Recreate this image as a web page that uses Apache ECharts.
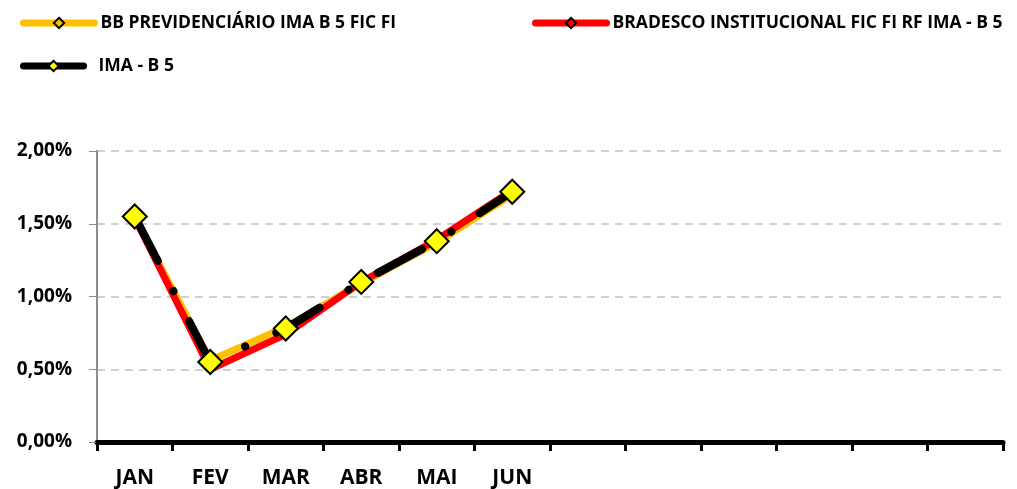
<!DOCTYPE html>
<html><head><meta charset="utf-8">
<script src="https://cdn.jsdelivr.net/npm/echarts@6/dist/echarts.min.js"></script>
<style>html,body{margin:0;padding:0;background:#fff}#c{width:1017px;height:489px}</style>
</head><body><div id="c"></div>
<script>
var categories = ['JAN','FEV','MAR','ABR','MAI','JUN','JUL','AGO','SET','OUT','NOV','DEZ'];
var shownLabels = ['JAN','FEV','MAR','ABR','MAI','JUN','','','','','',''];
var bbValues = [1.54, 0.56, 0.79, 1.09, 1.37, 1.70];
var bradescoValues = [1.54, 0.50, 0.74, 1.10, 1.39, 1.73];
var imaValues = [1.55, 0.55, 0.78, 1.10, 1.38, 1.72];
var yTicks = [0, 0.5, 1, 1.5, 2];
var names = ['BB PREVIDENCIÁRIO IMA B 5 FIC FI','BRADESCO INSTITUCIONAL FIC FI RF IMA - B 5','IMA - B 5'];

var font = 'Open Sans';
var chart = echarts.init(document.getElementById('c'));
function leg(name, left, top, w, lineColor, padLeft){
  return {data:[name], left:left, top:top, itemWidth:w, itemHeight:13, itemGap:4,
    lineStyle:{width:7, type:'solid', cap:'round', color:lineColor},
    textStyle:{fontFamily:font, fontWeight:'bold', fontSize:17.5, color:'#000', padding:[0,0,0,padLeft]}, selectedMode:false};
}
chart.setOption({
  animation:false,
  legend:[leg(names[0],15,9,71,'#FFC000',1), leg(names[1],527,9,71,'#FF0000',1), leg(names[2],15,52,60,'#000',10)],
  grid:{left:97, right:14, top:151, bottom:46},
  xAxis:{type:'category', data:categories, boundaryGap:true,
    axisLine:{lineStyle:{color:'#000', width:5}},
    axisTick:{show:true, length:9, lineStyle:{color:'#000', width:3}},
    axisLabel:{formatter:function(v,i){return shownLabels[i];}, margin:26,
      fontFamily:font, fontWeight:'bold', fontSize:21, color:'#000'}},
  yAxis:{type:'value', min:0, max:2, interval:0.5,
    axisLine:{show:true, lineStyle:{color:'#8c8c8c', width:2}},
    axisTick:{show:true, length:8, lineStyle:{color:'#8c8c8c'}},
    splitLine:{lineStyle:{color:'#d0d0d0', type:[8,6], width:2}},
    axisLabel:{formatter:function(v){return v.toFixed(2).replace('.',',')+'%';}, margin:25,
      fontFamily:font, fontWeight:'bold', fontSize:19, color:'#000'}},
  series:[
    {name:names[0], type:'line', data:bbValues, showSymbol:false, symbol:'diamond', symbolSize:10,
     itemStyle:{color:'#FFC000', borderColor:'#000', borderWidth:2},
     lineStyle:{color:'#FFC000', width:7}, z:1},
    {name:names[1], type:'line', data:bradescoValues, showSymbol:false, symbol:'diamond', symbolSize:10,
     itemStyle:{color:'#FF0000', borderColor:'#000', borderWidth:2},
     lineStyle:{color:'#FF0000', width:7}, z:2},
    {name:names[2], type:'line', data:imaValues, symbol:'diamond', symbolSize:24,
     itemStyle:{color:'#FFFF00', borderColor:'#000', borderWidth:2, opacity:1},
     lineStyle:{color:'#000', width:8, type:[50,34,0.1,34], cap:'round'}, z:3}
  ]
});
</script></body></html>
